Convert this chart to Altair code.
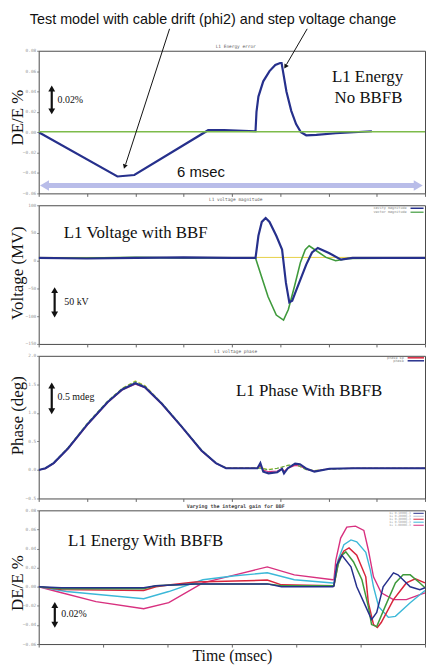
import altair as alt
import pandas as pd

SERIF = "Liberation Serif"
SANS = "Liberation Sans"
MONO = "DejaVu Sans Mono"
W = 390

# ---------------- data ----------------
# Panel 1: L1 energy error, no BBFB (DE/E %)
e1_x = [0, 1.63, 1.98, 3.51, 3.84, 4.49, 4.51, 4.55, 4.65, 4.78, 4.90, 5.00, 5.03,
        5.13, 5.23, 5.33, 5.43, 5.54, 5.75, 6.15, 6.9]
e1_blue = [0, -0.0434, -0.042, 0.002, 0.002, 0.001, 0.02, 0.035, 0.05, 0.06, 0.066,
           0.068, 0.068, 0.04, 0.021, 0.008, 0.0, -0.003, -0.0025, -0.001, 0.001]
e1_green_x = [0, 8]
e1_green = [0.0005, 0.0005]

# Panel 2: L1 voltage magnitude (kV deviation)
v_x = [0, 1, 2, 3, 4, 4.49, 4.55, 4.62, 4.70, 4.78, 4.92, 5.04, 5.12, 5.19, 5.25,
       5.33, 5.54, 5.66, 5.78, 6.01, 6.26, 6.5, 8]
v_blue = [5, 4, 5, 6, 5, 5, 45, 70, 77, 70, 45, 20, -40, -75, -72, -54, -7, 15, 23,
          14, 2, 5, 5]
vg_x = [0, 1, 2, 3, 4, 4.49, 4.6, 4.75, 4.92, 5.07, 5.17, 5.3, 5.42, 5.52, 5.6,
        5.75, 5.95, 6.15, 6.4, 8]
v_green = [5, 5, 6, 5, 5, 5, -25, -65, -98, -107, -88, -45, -3, 20, 27, 18, 6, 0, 4, 5]

# Panel 3: L1 voltage phase (mdeg)
p_x = [0, 0.14, 0.31, 0.61, 1.02, 1.43, 1.73, 2.0, 2.2, 2.55, 2.96, 3.37, 3.67, 3.88,
       4.29, 4.53, 4.59, 4.65, 4.76, 4.94, 5.04, 5.08, 5.16, 5.31, 5.41, 5.55, 5.71,
       6.02, 6.53, 8.0]
p_blue = [0, 0.03, 0.12, 0.38, 0.81, 1.19, 1.41, 1.52, 1.45, 1.16, 0.76, 0.34, 0.12,
          0.03, 0.03, 0.03, 0.12, -0.03, -0.06, -0.04, 0.02, -0.06, 0.03, 0.11, 0.10,
          0.02, -0.03, 0.02, 0.03, 0.03]
p_green = [0, 0.03, 0.13, 0.39, 0.83, 1.21, 1.43, 1.55, 1.47, 1.17, 0.77, 0.35, 0.12,
           0.03, 0.03, 0.03, 0.03, 0.02, 0.0, 0.03, 0.05, 0.06, 0.08, 0.10, 0.06,
           0.0, -0.01, 0.01, 0.03, 0.03]
p_magenta = [0, 0.02, 0.11, 0.37, 0.80, 1.18, 1.40, 1.50, 1.44, 1.15, 0.75, 0.33, 0.11,
             0.03, 0.03, 0.03, 0.07, 0.0, -0.03, -0.02, 0.02, -0.02, 0.03, 0.08, 0.07,
             0.01, -0.02, 0.02, 0.03, 0.03]
p_yellow = [0, 0.03, 0.12, 0.39, 0.82, 1.20, 1.43, 1.56, 1.48, 1.17, 0.76, 0.35, 0.12,
            0.04, 0.04, 0.04, 0.04, 0.03, 0.01, 0.03, 0.05, 0.06, 0.08, 0.09, 0.06,
            0.01, -0.01, 0.02, 0.03, 0.03]

# Panel 4: L1 energy with BBFB, varying the integral gain (DE/E %)
m_x = [0, 0.28, 0.89, 1.63, 2.02, 2.55, 3.05, 3.55, 3.97, 4.57, 4.585, 4.615, 4.69,
       4.785, 4.92, 5.05, 5.12, 5.2, 5.32, 5.51, 5.71, 5.92, 6.0]
m_y = [0, -0.005, -0.0156, -0.023, -0.0167, 0.004, 0.0125, 0.0208, 0.0125, 0.0073,
       0.0073, 0.028, 0.051, 0.0625, 0.0635, 0.059, 0.0385, 0.0104, -0.0063, -0.0135,
       -0.0135, -0.0083, -0.0065]
c_x = [0, 0.43, 1.63, 2.02, 2.55, 3.05, 3.55, 3.97, 4.57, 4.585, 4.65, 4.74, 4.85,
       4.94, 5.08, 5.15, 5.2, 5.28, 5.43, 5.54, 5.77, 6.0]
c_y = [0, -0.005, -0.0125, -0.005, 0.0073, 0.0115, 0.0146, 0.0073, 0.004, 0.004,
       0.028, 0.044, 0.049, 0.047, 0.036, 0.0177, 0, -0.0208, -0.032, -0.031,
       -0.0167, -0.004]
r_x = [0, 0.35, 1.63, 1.82, 2.05, 2.43, 3.05, 3.55, 3.77, 4.57, 4.585, 4.66, 4.74,
       4.82, 4.94, 5.08, 5.12, 5.2, 5.26, 5.32, 5.51, 5.71, 5.85, 6.0]
r_y = [0, -0.003, -0.004, 0, 0.002, 0.005, 0.006, 0.007, 0.002, 0.001, 0.001, 0.028,
       0.0375, 0.0406, 0.033, 0.0104, -0.0167, -0.0396, -0.0427, -0.0375, -0.0135,
       0.004, 0.0083, 0.004]
g_x = [0, 0.35, 1.63, 1.82, 2.43, 3.55, 3.77, 4.57, 4.585, 4.65, 4.71, 4.77, 4.89,
       5.02, 5.12, 5.17, 5.25, 5.38, 5.54, 5.66, 5.77, 5.92, 6.0]
g_y = [0, -0.002, -0.002, 0.001, 0.003, 0.003, 0.001, 0.001, 0.001, 0.023, 0.033,
       0.0365, 0.026, 0.0073, -0.0208, -0.0396, -0.0417, -0.0208, 0.004, 0.0125,
       0.0125, 0.004, -0.001]
b_x = [0, 0.35, 1.63, 1.82, 2.43, 3.55, 3.77, 4.57, 4.585, 4.63, 4.71, 4.85, 4.94,
       5.08, 5.17, 5.25, 5.35, 5.51, 5.58, 5.77, 5.92, 6.0]
b_y = [0, -0.001, -0.001, 0.001, 0.003, 0.003, 0.0, 0.0, 0.001, 0.023, 0.033, 0.0208,
       0, -0.0208, -0.0344, -0.027, 0, 0.0146, 0.0125, 0, -0.003, -0.001]

gain_labels = ["ki 0.1000E-3", "ki 0.2000E-3", "ki 0.3000E-3", "ki 0.5000E-3", "ki 1.0000E-3"]

e_ticks = [-0.06, -0.04, -0.02, 0, 0.02, 0.04, 0.06, 0.08]
v_ticks = [-150, -100, -50, 0, 50, 100]
p_ticks = [-0.5, 0, 0.5, 1.0, 1.5, 2.0]
t8_ticks = [0, 1, 2, 3, 4, 5, 6, 7, 8]
t6_ticks = [0, 1, 2, 3, 4, 5, 6]

BLUE = "#26308c"
GREEN = "#3f9a3c"
LGREEN = "#7dbb4a"
RED = "#d8253c"
CYAN = "#3cb8d8"
MAGENTA = "#d8307f"
YELLOW = "#e6cf45"
LAV = "#b9bde9"


def df(xs, ys):
    return pd.DataFrame({"x": xs, "y": ys})


def X(dom, ticks, title=None):
    kw = dict(labels=False, ticks=True, tickSize=3, tickColor="#666", domain=False,
              grid=False, values=ticks)
    if title:
        kw.update(title=title, titleFont=SERIF, titleFontSize=16, titleFontWeight="normal",
                  titleColor="#111", titlePadding=0)
    else:
        kw.update(title=None)
    return alt.X("x:Q", scale=alt.Scale(domain=dom, nice=False, zero=False),
                 axis=alt.Axis(**kw))


def Y(dom, ticks, title, fmt, ty):
    return alt.Y("y:Q", scale=alt.Scale(domain=dom, nice=False, zero=False),
                 axis=alt.Axis(values=ticks, title=title, titleFont=SERIF, titleFontSize=17,
                               titleFontWeight="normal", titleColor="#111", titleX=-16,
                               titleY=ty, titleBaseline="alphabetic",
                               labelFontSize=4.5, labelColor="#9a9a9a", labelFont=MONO,
                               format=fmt, tickSize=2, tickColor="#777", labelPadding=1,
                               domain=False, grid=False))


def line(data, xe, ye, color, width, dash=None):
    kw = dict(color=color, strokeWidth=width, clip=True)
    if dash:
        kw["strokeDash"] = dash
    return alt.Chart(data).mark_line(**kw).encode(x=xe, y=ye)


def text(xv, yv, s, xe, ye, size, font=SERIF, align="center", color="#111", weight="normal"):
    return alt.Chart(pd.DataFrame({"x": [xv], "y": [yv], "t": [s]})).mark_text(
        font=font, fontSize=size, align=align, baseline="middle", color=color,
        fontWeight=weight).encode(x=xe, y=ye, text="t:N")


def seg(x1, y1, x2, y2, xe, ye, color, width):
    return alt.Chart(pd.DataFrame({"x": [x1], "y": [y1], "x2": [x2], "y2": [y2]})).mark_rule(
        color=color, strokeWidth=width).encode(x=xe, y=ye, x2="x2:Q", y2="y2:Q")


def head(xv, yv, xe, ye, shape, size, color="#111", angle=0):
    kw = dict(shape=shape, filled=True, size=size, color=color, opacity=1, strokeWidth=0)
    if angle:
        kw["angle"] = angle
    return alt.Chart(pd.DataFrame({"x": [xv], "y": [yv]})).mark_point(**kw).encode(x=xe, y=ye)


def varrow(xv, ytop, ybot, xe, ye):
    # double headed vertical arrow: shaft plus two filled heads
    return [seg(xv, ytop, xv, ybot, xe, ye, "#111", 2.2),
            head(xv, ytop, xe, ye, "triangle-up", 48),
            head(xv, ybot, xe, ye, "triangle-down", 48)]


# ---------------- panel 1 ----------------
x1 = X([0, 8], t8_ticks)
y1 = Y([-0.06, 0.08], e_ticks, "DE/E %", ".2f", 67)
p1_layers = [
    line(df(e1_x, e1_blue), x1, y1, BLUE, 2.2),
    line(df(e1_green_x, e1_green), x1, y1, LGREEN, 1.6),
    seg(0.12, -0.0522, 7.86, -0.0522, x1, y1, LAV, 5),
    head(0.12, -0.0522, x1, y1, "triangle-left", 110, LAV),
    head(7.86, -0.0522, x1, y1, "triangle-right", 110, LAV),
    text(3.36, -0.0386, "6 msec", x1, y1, 15, font=SANS),
    text(6.81, 0.0538, "L1 Energy", x1, y1, 17),
    text(6.83, 0.0333, "No BBFB", x1, y1, 17),
    text(0.39, 0.0314, "0.02%", x1, y1, 10, align="left"),
    text(4.08, 0.0839, "L1 Energy error", x1, y1, 4.5, font=MONO, color="#666"),
    text(3.61, 0.1101, "Test model with cable drift (phi2) and step voltage change",
         x1, y1, 14.5, font=SANS),
    seg(2.71, 0.1015, 1.80, -0.0315, x1, y1, "#111", 1),
    head(1.78, -0.0337, x1, y1, "triangle-up", 26, angle=199),
    seg(5.56, 0.1015, 5.13, 0.0664, x1, y1, "#111", 1),
    head(5.11, 0.0644, x1, y1, "triangle-up", 26, angle=212),
] + varrow(0.27, 0.043, 0.0205, x1, y1)
p1 = alt.layer(*p1_layers).properties(width=W, height=144)

# ---------------- panel 2 ----------------
x2 = X([0, 8], t8_ticks)
y2 = Y([-150, 100], v_ticks, "Voltage (MV)", "d", 68)
p2_layers = [
    line(df([0, 8], [6, 6]), x2, y2, YELLOW, 1),
    line(df(vg_x, v_green), x2, y2, GREEN, 1.6),
    line(df(v_x, v_blue), x2, y2, BLUE, 2.2),
    text(2.01, 50, "L1 Voltage with BBF", x2, y2, 17),
    text(0.53, -75, "50 kV", x2, y2, 10, align="left"),
    text(4.08, 108.9, "L1 voltage magnitude", x2, y2, 4.5, font=MONO, color="#666"),
    seg(7.70, 94.6, 7.97, 94.6, x2, y2, BLUE, 1.5),
    seg(7.70, 87.5, 7.97, 87.5, x2, y2, GREEN, 1.2),
    text(7.62, 94.6, "cavity magnitude", x2, y2, 3.5, font=MONO, align="right", color="#888"),
    text(7.62, 87.5, "vector magnitude", x2, y2, 3.5, font=MONO, align="right", color="#888"),
] + varrow(0.33, -53, -97, x2, y2)
p2 = alt.layer(*p2_layers).properties(width=W, height=140)

# ---------------- panel 3 ----------------
x3 = X([0, 8], t8_ticks)
y3 = Y([-0.5, 2.0], p_ticks, "Phase (deg)", ".1f", 60)
p3_layers = [
    line(df(p_x, p_yellow), x3, y3, YELLOW, 1.1, [4, 2]),
    line(df(p_x, p_magenta), x3, y3, MAGENTA, 1.1),
    line(df(p_x, p_green), x3, y3, "#5aa84a", 1.1, [4, 2]),
    line(df(p_x, p_blue), x3, y3, BLUE, 2.1),
    text(5.6, 1.375, "L1 Phase With BBFB", x3, y3, 17),
    text(0.39, 1.27, "0.5 mdeg", x3, y3, 10, align="left"),
    text(4.08, 2.07, "L1 voltage phase", x3, y3, 4.5, font=MONO, color="#666"),
    seg(7.64, 1.965, 7.98, 1.965, x3, y3, RED, 1.5),
    seg(7.64, 1.913, 7.98, 1.913, x3, y3, BLUE, 1.5),
    text(7.56, 1.965, "phase sp", x3, y3, 3.5, font=MONO, align="right", color="#888"),
    text(7.56, 1.913, "phase", x3, y3, 3.5, font=MONO, align="right", color="#888"),
] + varrow(0.27, 1.48, 1.03, x3, y3)
p3 = alt.layer(*p3_layers).properties(width=W, height=144)

# ---------------- panel 4 ----------------
x4 = X([0, 6], t6_ticks, "Time (msec)")
y4 = Y([-0.06, 0.08], e_ticks, "DE/E %", ".2f", 73)
leg_y = [0.0769, 0.0738, 0.0707, 0.0676, 0.0644]
leg_c = [BLUE, "#b8c0d8", RED, CYAN, MAGENTA]
p4_layers = [
    line(df(m_x, m_y), x4, y4, MAGENTA, 1.4),
    line(df(c_x, c_y), x4, y4, CYAN, 1.4),
    line(df(r_x, r_y), x4, y4, RED, 1.5),
    line(df(g_x, g_y), x4, y4, GREEN, 1.5),
    line(df(b_x, b_y), x4, y4, BLUE, 1.5),
    text(1.66, 0.0479, "L1 Energy With BBFB", x4, y4, 17),
    text(0.35, -0.0289, "0.02%", x4, y4, 10, align="left"),
    text(3.06, 0.0841, "Varying the integral gain for BBF", x4, y4, 5, font=MONO,
         color="#444", weight="bold"),
] + varrow(0.25, -0.019, -0.0398, x4, y4)
for yy, cc, lab in zip(leg_y, leg_c, gain_labels):
    p4_layers.append(seg(5.82, yy, 5.98, yy, x4, y4, cc, 1))
    p4_layers.append(text(5.78, yy, lab, x4, y4, 3, font=MONO, align="right", color="#999"))
p4 = alt.layer(*p4_layers).properties(width=W, height=135)

chart = alt.vconcat(p1, p2, p3, p4, spacing=12, bounds="flush").properties(
    padding=0, background="white"
).configure_view(stroke="#4a4a4a", strokeWidth=1)

chart.save("out.html", embed_options={"renderer": "svg", "actions": False})
